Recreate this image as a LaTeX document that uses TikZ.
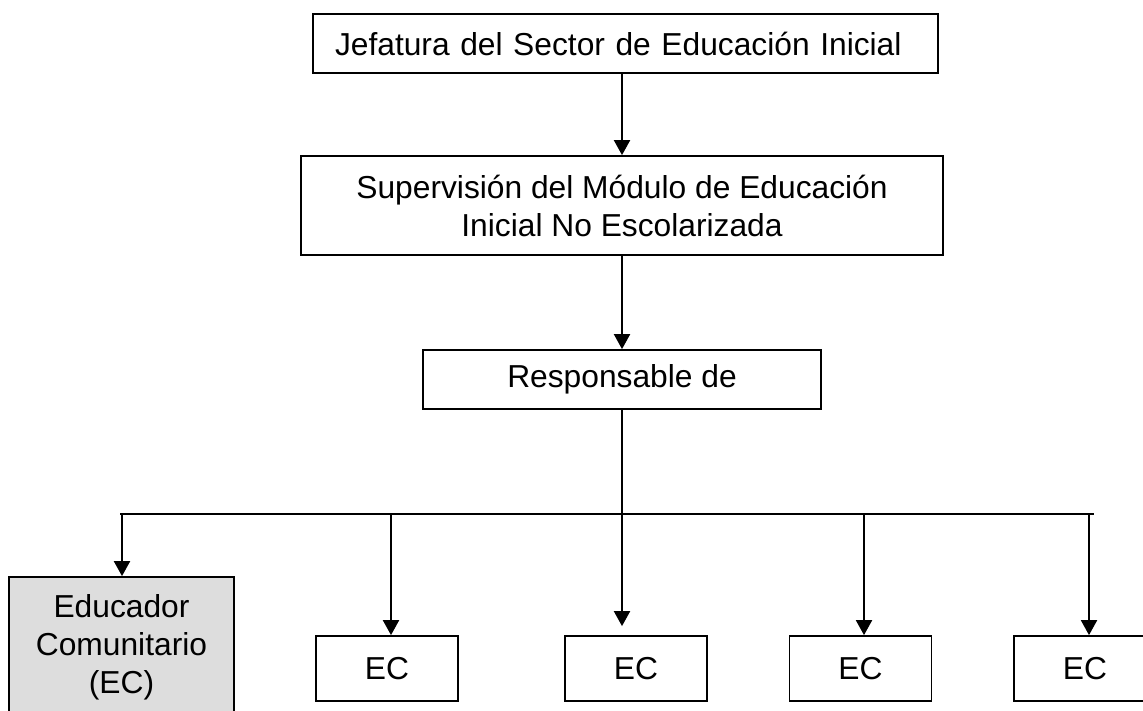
\documentclass[tikz,border=0pt]{standalone}
\usepackage{fontspec}
\setmainfont{Liberation Sans}
\usetikzlibrary{arrows.meta}
\definecolor{ecgris}{HTML}{DDDDDD}
\tikzset{
  texto/.style={font=\fontsize{12.7pt}{15.2pt}\selectfont},
  caja/.style={texto,draw,line width=0.7pt,inner sep=0pt,align=center},
  ecbox/.style={caja,minimum width=56.8pt,minimum height=26pt},
  flecha/.style={draw,line width=0.8pt,-{Triangle[length=6pt,width=6.4pt]}}
}
\begin{document}
\begin{tikzpicture}[x=0.4pt,y=-0.4pt]
\useasboundingbox (0,0) rectangle (1143,711);
% niveles superiores
\node[caja,minimum width=250pt,minimum height=23.6pt,text width=232.4pt,align=left]%
(jefatura) at (625.5,43.5) {Jefatura del Sector de Educación Inicial};
\node[caja,minimum width=256.8pt,minimum height=39.6pt]%
(supervision) at (622,205.5) {Supervisión del Módulo de Educación\\Inicial No Escolarizada};
\node[caja,minimum width=159.2pt,minimum height=23.6pt]%
(responsable) at (622,379.5) {Responsable de};
% educadores comunitarios
\node[caja,fill=ecgris,minimum width=90pt,minimum height=59.2pt] (ec1) at (121.5,651) {};
\node[texto,align=center,inner sep=0pt,anchor=north]%
(ec1texto) at (121.5,594) {Educador\\Comunitario\\(EC)};
\node[ecbox] (ec2) at (387,668.5) {EC};
\node[ecbox] (ec3) at (636,668.5) {EC};
\node[ecbox] (ec4) at (860.5,668.5) {EC};
\node[ecbox] (ec5) at (1085,668.5) {EC};
% conexiones
\path[flecha] (supervision.north |- jefatura.south) -- (supervision.north);
\path[flecha] (supervision) -- (responsable);
\coordinate (busizq) at (120,514);
\coordinate (busder) at (1094,514);
\path[draw,line width=0.7pt] (busizq) -- (busder);
\path[draw,line width=0.5pt] (responsable.south) -- (responsable.south |- busizq);
\path[flecha,shorten >=3.6pt] (responsable.south |- busizq) -- (responsable.south |- ec3.north);
\foreach \n/\x in {ec1/122,ec2/391,ec4/864,ec5/1089}{
  \coordinate (b\n) at (\x,514);
  \path[flecha] (b\n) -- (b\n |- \n.north);}
\end{tikzpicture}
\end{document}
